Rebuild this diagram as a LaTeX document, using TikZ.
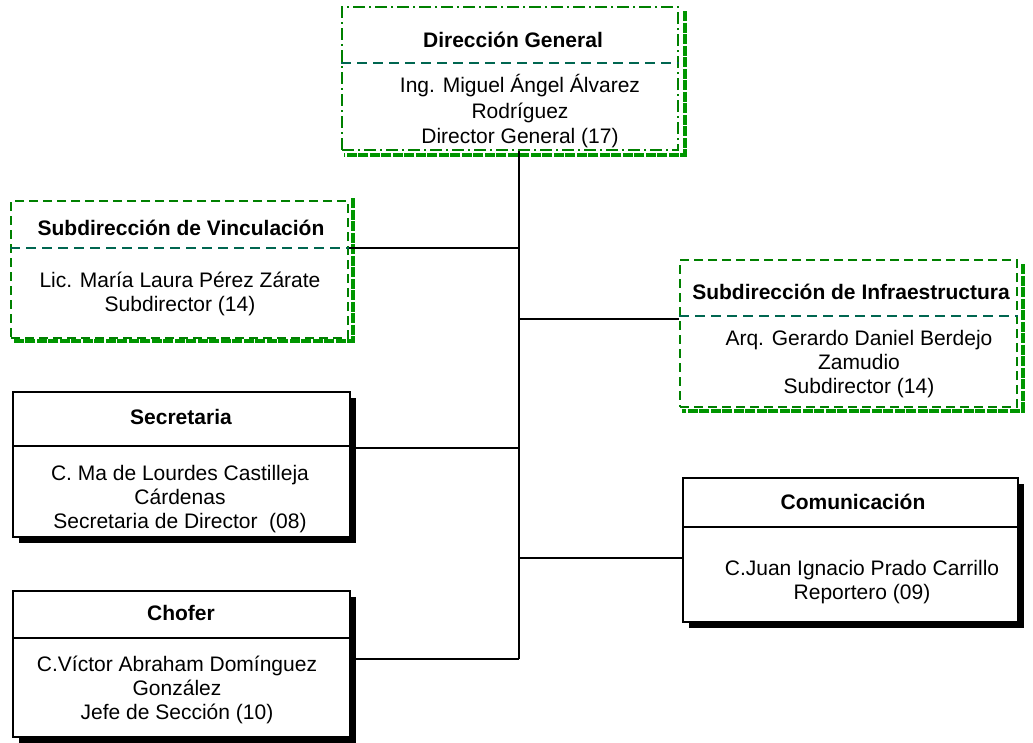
\documentclass[tikz,border=0pt]{standalone}
\usepackage{fontspec}
\setmainfont{Liberation Sans}
\usetikzlibrary{shadows}

\definecolor{ogreen}{RGB}{0,128,0}
\definecolor{oshade}{RGB}{0,150,0}
\definecolor{oteal}{RGB}{0,102,80}

\tikzset{
  unit/.style={draw, line width=1.5pt, fill=white, inner sep=0pt,
    drop shadow={shadow xshift=6pt, shadow yshift=-6pt, fill=black, opacity=1}},
  gunit/.style={draw=ogreen, line width=1.5pt, fill=white, inner sep=0pt,
    dash pattern=on 9pt off 5pt},
  gshade/.style={draw=oshade, line width=4.5pt, dash pattern=on 10pt off 1.5pt},
  divline/.style={line width=1.5pt},
  gdivline/.style={draw=oteal, line width=1.5pt, dash pattern=on 10pt off 6pt},
  title/.style={font=\fontsize{21}{24}\selectfont\bfseries, text height=15pt, text depth=0pt, inner sep=0pt},
  body/.style={font=\fontsize{21}{24}\selectfont, align=center, text depth=0pt, inner sep=0pt},
  link/.style={line width=1.7pt}
}

\begin{document}
\begin{tikzpicture}[x=1pt, y=-1pt]
    \useasboundingbox (0,0) rectangle (1033,742);

    % Boxes
    \node [gunit, dash pattern=on 12pt off 4pt on 2pt off 4pt, minimum width=336pt, minimum height=143pt] (dirgen) at (510,78.5) {};
    \node [gunit, minimum width=337pt, minimum height=137pt] (vinc) at (179.5,269.5) {};
    \node [gunit, minimum width=337pt, minimum height=147pt] (infra) at (848.5,333.5) {};
    \node [unit, minimum width=337pt, minimum height=145pt] (secre) at (181.5,464.5) {};
    \node [unit, minimum width=335pt, minimum height=144pt] (comun) at (850.5,550) {};
    \node [unit, minimum width=337pt, minimum height=146pt] (chofer) at (181.5,664) {};

    % Green shadows
    \draw [gshade] ([shift={(6,5)}]dirgen.north east) -- ([shift={(6,4)}]dirgen.south east) -- ([shift={(3,4)}]dirgen.south west);
    \draw [gshade] ([shift={(4,-2)}]vinc.north east) -- ([shift={(4,2)}]vinc.south east) -- ([shift={(3,2)}]vinc.south west);
    \draw [gshade] ([shift={(5,5)}]infra.north east) -- ([shift={(5,3)}]infra.south east) -- ([shift={(3,3)}]infra.south west);

    % Dividers
    \draw [gdivline] (dirgen.west |- 0,63) -- (dirgen.east |- 0,63);
    \draw [gdivline] (vinc.west |- 0,248) -- (vinc.east |- 0,248);
    \draw [gdivline] (infra.west |- 0,316) -- (infra.east |- 0,316);
    \draw [divline] (secre.west |- 0,446) -- (secre.east |- 0,446);
    \draw [divline] (comun.west |- 0,527) -- (comun.east |- 0,527);
    \draw [divline] (chofer.west |- 0,638) -- (chofer.east |- 0,638);

    % Texts
    \node [title] (dirgent) at (513,40) {Dirección General};
    \node [body, font=\fontsize{21}{25.5}\selectfont] (dirgenb) at (520,109) {Ing. Miguel Ángel Álvarez\\Rodríguez\\Director General (17)};
    \node [title] (vinct) at (181,228) {Subdirección de Vinculación};
    \node [body] (vincb) at (180,292) {Lic. María Laura Pérez Zárate\\Subdirector (14)};
    \node [title] (infrat) at (851,292) {Subdirección de Infraestructura};
    \node [body] (infrab) at (859,362) {Arq. Gerardo Daniel Berdejo\\Zamudio\\Subdirector (14)};
    \node [title] (secret) at (181,417) {Secretaria};
    \node [body] (secreb) at (180,497) {C. Ma de Lourdes Castilleja\\Cárdenas\\Secretaria de Director~~(08)};
    \node [title] (comunt) at (853,502) {Comunicación};
    \node [body] (comunb) at (862,580) {C.Juan Ignacio Prado Carrillo\\Reportero (09)};
    \node [title] (chofert) at (181,613) {Chofer};
    \node [body] (choferb) at (177,688) {C.Víctor Abraham Domínguez\\González\\Jefe de Sección (10)};

    % Connectors
    \coordinate (jv) at (519,248);
    \coordinate (ji) at (519,319);
    \coordinate (js) at (519,448);
    \coordinate (jc) at (519,558);
    \coordinate (jf) at (519,659);
    \draw [link] (dirgen.south -| jf) -- (jf);
    \draw [link] (jv) -- (vinc.east |- jv);
    \draw [link] (ji) -- (infra.west |- ji);
    \draw [link] (js) -- (secre.east |- js);
    \draw [link] (jc) -- (comun.west |- jc);
    \draw [link] (jf) -- (chofer.east |- jf);

\end{tikzpicture}
\end{document}
